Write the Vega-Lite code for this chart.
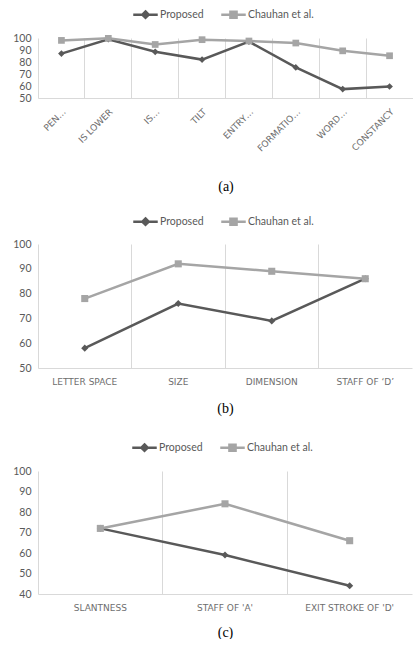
{
  "$schema": "https://vega.github.io/schema/vega-lite/v6.json",
  "background": "white",
  "padding": {"left": 12, "top": 1, "right": 0, "bottom": 0},
  "spacing": 14,
  "resolve": {"scale": {"color": "independent"}, "legend": {"color": "independent"}},
  "config": {
    "view": {"stroke": null},
    "font": "Lato",
    "axisY": {"domain": false, "ticks": false, "grid": false, "labelColor": "#595959", "labelFontSize": 10.5, "labelFont": "Lato", "labelPadding": 7, "title": null, "labelOverlap": false},
    "axisX": {"domain": true, "domainColor": "#D9D9D9", "ticks": false, "grid": true, "gridColor": "#D9D9D9", "bandPosition": 0, "labelColor": "#6E6E6E", "labelFontSize": 9, "labelFont": "DejaVu Sans", "labelPadding": 9, "titleFont": "Liberation Serif", "titleFontSize": 14, "titleFontWeight": "normal", "titleColor": "#000000"},
    "legend": {"orient": "none", "direction": "horizontal", "title": null, "labelFontSize": 10.5, "labelColor": "#595959", "labelFont": "Lato", "symbolSize": 600, "symbolStrokeWidth": 2.5, "columnPadding": 12, "labelOffset": 1}
  },
  "vconcat": [
    {
      "width": 375, "height": 60,
      "data": {"values": [
        {"feature": "PEN…", "series": "Proposed", "value": 87},
        {"feature": "IS LOWER", "series": "Proposed", "value": 99},
        {"feature": "IS…", "series": "Proposed", "value": 88.5},
        {"feature": "TILT", "series": "Proposed", "value": 82},
        {"feature": "ENTRY…", "series": "Proposed", "value": 97},
        {"feature": "FORMATIO…", "series": "Proposed", "value": 75.5},
        {"feature": "WORD…", "series": "Proposed", "value": 57.4},
        {"feature": "CONSTANCY", "series": "Proposed", "value": 59.6},
        {"feature": "PEN…", "series": "Chauhan et al.", "value": 98},
        {"feature": "IS LOWER", "series": "Chauhan et al.", "value": 99.7},
        {"feature": "IS…", "series": "Chauhan et al.", "value": 94.6},
        {"feature": "TILT", "series": "Chauhan et al.", "value": 98.6},
        {"feature": "ENTRY…", "series": "Chauhan et al.", "value": 97.5},
        {"feature": "FORMATIO…", "series": "Chauhan et al.", "value": 95.8},
        {"feature": "WORD…", "series": "Chauhan et al.", "value": 89.3},
        {"feature": "CONSTANCY", "series": "Chauhan et al.", "value": 85.2}
      ]},
      "encoding": {
        "x": {"field": "feature", "type": "nominal", "sort": null, "bandPosition": 0.5, "scale": {"type": "band", "paddingInner": 0, "paddingOuter": 0}, "axis": {"labelAngle": -45, "title": "(a)", "titlePadding": 27}},
        "y": {"field": "value", "type": "quantitative", "scale": {"domain": [50, 100], "nice": false, "zero": false}, "axis": {"values": [50, 60, 70, 80, 90, 100]}},
        "color": {"field": "series", "type": "nominal", "scale": {"domain": ["Proposed", "Chauhan et al."], "range": ["#595959", "#A5A5A5"]},
          "legend": {"legendX": 94, "legendY": -37, "encode": {"symbols": {"update": {"shape": {"signal": "datum.value === 'Proposed' ? 'M-1,0H1M0,-0.26L0.26,0L0,0.26L-0.26,0Z' : 'M-1,0H1M-0.25,-0.25H0.25V0.25H-0.25Z'"}, "fill": {"scale": "color", "field": "value"}, "stroke": {"scale": "color", "field": "value"}}}}}}
      },
      "layer": [
        {"mark": {"type": "line", "strokeWidth": 2.5}},
        {"transform": [{"filter": "datum.series === 'Proposed'"}], "mark": {"type": "point", "shape": "diamond", "filled": true, "opacity": 1, "size": 45}},
        {"transform": [{"filter": "datum.series !== 'Proposed'"}], "mark": {"type": "point", "shape": "square", "filled": true, "opacity": 1, "size": 45}}
      ]
    },
    {
      "spacing": 19,
      "resolve": {"scale": {"color": "independent"}, "legend": {"color": "independent"}},
      "vconcat": [
        {
          "width": 374, "height": 124,
          "data": {"values": [
            {"feature": "LETTER SPACE", "series": "Proposed", "value": 58},
            {"feature": "SIZE", "series": "Proposed", "value": 76},
            {"feature": "DIMENSION", "series": "Proposed", "value": 69},
            {"feature": "STAFF OF ‘D’", "series": "Proposed", "value": 86},
            {"feature": "LETTER SPACE", "series": "Chauhan et al.", "value": 78},
            {"feature": "SIZE", "series": "Chauhan et al.", "value": 92},
            {"feature": "DIMENSION", "series": "Chauhan et al.", "value": 89},
            {"feature": "STAFF OF ‘D’", "series": "Chauhan et al.", "value": 86}
          ]},
          "encoding": {
            "x": {"field": "feature", "type": "nominal", "sort": null, "bandPosition": 0.5, "scale": {"type": "band", "paddingInner": 0, "paddingOuter": 0}, "axis": {"labelAngle": 0, "title": "(b)", "titlePadding": 15}},
            "y": {"field": "value", "type": "quantitative", "scale": {"domain": [50, 100], "nice": false, "zero": false}, "axis": {"values": [50, 60, 70, 80, 90, 100]}},
            "color": {"field": "series", "type": "nominal", "scale": {"domain": ["Proposed", "Chauhan et al."], "range": ["#595959", "#A5A5A5"]},
              "legend": {"legendX": 94, "legendY": -36, "encode": {"symbols": {"update": {"shape": {"signal": "datum.value === 'Proposed' ? 'M-1,0H1M0,-0.26L0.26,0L0,0.26L-0.26,0Z' : 'M-1,0H1M-0.25,-0.25H0.25V0.25H-0.25Z'"}, "fill": {"scale": "color", "field": "value"}, "stroke": {"scale": "color", "field": "value"}}}}}}
          },
          "layer": [
            {"mark": {"type": "line", "strokeWidth": 2.5}},
            {"transform": [{"filter": "datum.series === 'Proposed'"}], "mark": {"type": "point", "shape": "diamond", "filled": true, "opacity": 1, "size": 50}},
            {"transform": [{"filter": "datum.series !== 'Proposed'"}], "mark": {"type": "point", "shape": "square", "filled": true, "opacity": 1, "size": 50}}
          ]
        },
        {
          "width": 374, "height": 123,
          "data": {"values": [
            {"feature": "SLANTNESS", "series": "Proposed", "value": 72},
            {"feature": "STAFF OF 'A'", "series": "Proposed", "value": 59},
            {"feature": "EXIT STROKE OF 'D'", "series": "Proposed", "value": 44},
            {"feature": "SLANTNESS", "series": "Chauhan et al.", "value": 72},
            {"feature": "STAFF OF 'A'", "series": "Chauhan et al.", "value": 84},
            {"feature": "EXIT STROKE OF 'D'", "series": "Chauhan et al.", "value": 66}
          ]},
          "encoding": {
            "x": {"field": "feature", "type": "nominal", "sort": null, "bandPosition": 0.5, "scale": {"type": "band", "paddingInner": 0, "paddingOuter": 0}, "axis": {"labelAngle": 0, "title": "(c)", "titlePadding": 13}},
            "y": {"field": "value", "type": "quantitative", "scale": {"domain": [40, 100], "nice": false, "zero": false}, "axis": {"values": [40, 50, 60, 70, 80, 90, 100]}},
            "color": {"field": "series", "type": "nominal", "scale": {"domain": ["Proposed", "Chauhan et al."], "range": ["#595959", "#A5A5A5"]},
              "legend": {"legendX": 93, "legendY": -37, "encode": {"symbols": {"update": {"shape": {"signal": "datum.value === 'Proposed' ? 'M-1,0H1M0,-0.26L0.26,0L0,0.26L-0.26,0Z' : 'M-1,0H1M-0.25,-0.25H0.25V0.25H-0.25Z'"}, "fill": {"scale": "color", "field": "value"}, "stroke": {"scale": "color", "field": "value"}}}}}}
          },
          "layer": [
            {"mark": {"type": "line", "strokeWidth": 2.5}},
            {"transform": [{"filter": "datum.series === 'Proposed'"}], "mark": {"type": "point", "shape": "diamond", "filled": true, "opacity": 1, "size": 50}},
            {"transform": [{"filter": "datum.series !== 'Proposed'"}], "mark": {"type": "point", "shape": "square", "filled": true, "opacity": 1, "size": 50}}
          ]
        }
      ]
    }
  ]
}
